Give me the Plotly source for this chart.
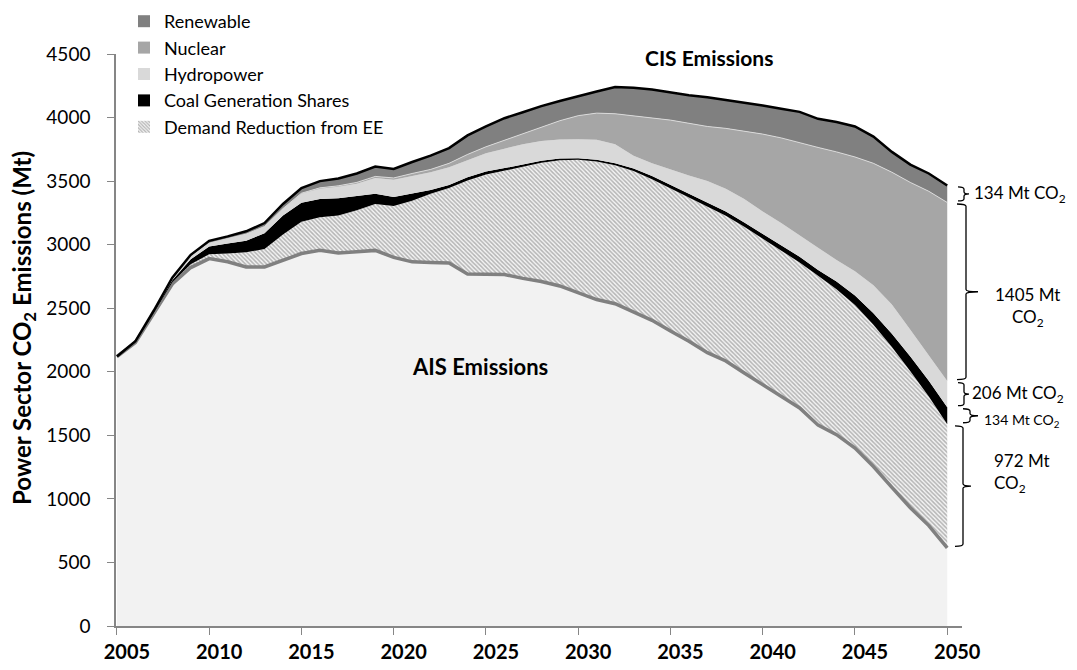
import plotly.graph_objects as go

years = list(range(2005, 2051))

ais = [2120, 2230, 2460, 2690, 2820, 2890, 2865, 2825, 2825, 2880,
       2930, 2955, 2935, 2945, 2955, 2900, 2865, 2860, 2855, 2770,
       2768, 2765, 2735, 2710, 2675, 2620, 2568, 2535, 2470, 2405,
       2320, 2240, 2150, 2085, 1990, 1900, 1810, 1715, 1580, 1505,
       1400, 1255, 1090, 930, 790, 615]
ee = [0, 2, 6, 15, 25, 35, 65, 115, 140, 200,
      250, 260, 295, 325, 365, 405, 480, 540, 590, 735,
      784, 815, 877, 935, 990, 1048, 1087, 1090, 1110, 1110,
      1123, 1135, 1150, 1143, 1150, 1145, 1142, 1145, 1175, 1145,
      1125, 1115, 1105, 1075, 1015, 972]
coal = [0, 3, 8, 15, 40, 60, 80, 90, 125, 150,
        150, 145, 135, 115, 80, 70, 55, 30, 25, 25,
        23, 20, 18, 15, 13, 12, 13, 15, 20, 25,
        27, 30, 30, 32, 35, 40, 43, 45, 45, 60,
        75, 90, 105, 115, 125, 134]
hydro = [0, 2, 4, 10, 20, 25, 35, 50, 50, 50,
         70, 80, 90, 95, 125, 135, 140, 140, 140, 135,
         145, 155, 160, 155, 150, 150, 157, 150, 100, 100,
         120, 140, 170, 180, 185, 175, 175, 165, 175, 170,
         190, 220, 230, 210, 200, 206]
nuclear = [0, 0, 0, 1, 2, 2, 3, 3, 3, 4,
           5, 7, 8, 10, 12, 15, 20, 22, 30, 45,
           50, 65, 80, 110, 147, 185, 210, 240, 315, 355,
           390, 410, 430, 475, 535, 610, 670, 730, 790, 850,
           900, 960, 1040, 1160, 1290, 1405]
renewable = [0, 3, 4, 9, 13, 18, 17, 22, 27, 36,
             40, 53, 57, 70, 78, 70, 90, 108, 120, 150,
             160, 175, 172, 165, 155, 155, 170, 210, 220, 225,
             215, 220, 230, 225, 220, 225, 230, 245, 225, 235,
             240, 210, 160, 140, 140, 134]

xtick_vals = list(range(2005, 2051, 5))
xtick_text = [str(v) for v in xtick_vals]

FONT = "Lato"
HATCH = dict(shape="\\", fgcolor="#737373", bgcolor="#f4f4f4", size=3, solidity=0.5)

fig = go.Figure()

series = [
    ("AIS Emissions", ais, "#f2f2f2", dict(color="#808080", width=3.5), None),
    ("Demand Reduction from EE", ee, "#f4f4f4", dict(width=0), HATCH),
    ("Coal Generation Shares", coal, "#000000", dict(width=0), None),
    ("Hydropower", hydro, "#d9d9d9", dict(width=0), None),
    ("Nuclear", nuclear, "#a6a6a6", dict(color="#e6e6e6", width=0.8), None),
    ("Renewable", renewable, "#808080", dict(color="#000000", width=2.5), None),
]
for name, vals, col, line, pat in series:
    kw = dict(x=years, y=vals, name=name, mode="lines", stackgroup="s",
              fillcolor=col, line=line, showlegend=False, hoverinfo="skip")
    if pat:
        kw["fillpattern"] = pat
    fig.add_trace(go.Scatter(**kw))

# legend proxies (square swatches)
legend_items = [("Renewable", "#808080", None), ("Nuclear", "#a6a6a6", None),
                ("Hydropower", "#d9d9d9", None), ("Coal Generation Shares", "#000000", None),
                ("Demand Reduction from EE", "#f4f4f4", HATCH)]
for name, col, pat in legend_items:
    mk = dict(color=col, line=dict(width=0))
    if pat:
        mk["pattern"] = pat
    fig.add_trace(go.Bar(x=[None], y=[None], name=name, marker=mk, showlegend=True))

# cumulative levels at 2050 for the brackets
lvl = [ais[-1]]
for s in (ee, coal, hydro, nuclear, renewable):
    lvl.append(lvl[-1] + s[-1])

W, H = 1077, 670
OFF = 8  # page body margin offset
L, R, T, B = 108, 123, 46, 52
PW = W - L - R
PH = H - T - B


def px(p):
    """screen pixel x -> paper x"""
    return (p - OFF - L) / PW


def py(p):
    """screen pixel y -> paper y"""
    return 1 - (p - OFF - T) / PH


def brace(xl, xv, xt, ytop, ybot, r):
    ym = (ytop + ybot) / 2
    return (f"M {px(xl)},{ytop} Q {px(xv)},{ytop} {px(xv)},{ytop - r} "
            f"L {px(xv)},{ym + r} Q {px(xv)},{ym} {px(xt)},{ym} "
            f"Q {px(xv)},{ym} {px(xv)},{ym - r} L {px(xv)},{ybot + r} "
            f"Q {px(xv)},{ybot} {px(xl)},{ybot}")

shapes = []
annos = []
# (lower level idx, xl, xv, xt, text, text_x, xanchor, size, yshift)
br_specs = [
    (0, 955, 963, 971, "972 Mt<br>CO<sub>2</sub>", 992, "left", 17, 13),
    (1, 963, 970, 978, "134 Mt CO<sub>2</sub>", 982, "left", 14, -5),
    (2, 958, 964, 969, "206 Mt CO<sub>2</sub>", 970, "left", 17, 0),
    (3, 957, 966, 978, "1405 Mt<br>CO<sub>2</sub>", 1027, "center", 17, -15),
    (4, 958, 964, 969, "134 Mt CO<sub>2</sub>", 972, "left", 17, 0),
]
for i, xl, xv, xt, txt, tx, xa, fs, ys in br_specs:
    lo, hi = lvl[i], lvl[i + 1]
    pad = 12
    ytop, ybot = hi - pad, lo + pad
    r = min(18, (ytop - ybot) / 5)
    shapes.append(dict(type="path", xref="paper", yref="y",
                       path=brace(xl, xv, xt, ytop, ybot, r),
                       line=dict(color="#000000", width=1.3)))
    annos.append(dict(x=px(tx), xref="paper", y=(lo + hi) / 2, yref="y",
                      text=txt, showarrow=False, xanchor=xa, yanchor="middle",
                      align=xa, yshift=ys,
                      font=dict(family=FONT, size=fs, color="#000000")))

annos.append(dict(x=2037.1, y=4475, xref="x", yref="y", text="<b>CIS Emissions</b>",
                  showarrow=False, font=dict(family=FONT, size=21, color="#000000")))
annos.append(dict(x=2024.7, y=2045, xref="x", yref="y", text="<b>AIS Emissions</b>",
                  showarrow=False, font=dict(family=FONT, size=22, color="#000000")))
annos.append(dict(x=px(24), y=py(328), xref="paper", yref="paper", textangle=-90,
                  text="<b>Power Sector CO<sub>2</sub> Emissions (Mt)</b>",
                  showarrow=False, xanchor="center", yanchor="middle",
                  font=dict(family=FONT, size=24, color="#000000")))

fig.update_layout(
    width=W, height=H,
    margin=dict(l=L, r=R, t=T, b=B, autoexpand=False),
    paper_bgcolor="white", plot_bgcolor="white",
    font=dict(family=FONT, color="#000000"),
    shapes=shapes, annotations=annos,
    legend=dict(xref="paper", yref="paper", x=px(124), y=py(3),
                xanchor="left", yanchor="top",
                font=dict(family=FONT, size=18, color="#000000"),
                bgcolor="rgba(0,0,0,0)", traceorder="normal", tracegroupgap=0,
                itemwidth=30),
    xaxis=dict(range=[2004.95, 2050.8], tickmode="array", tickvals=xtick_vals,
               ticktext=xtick_text, ticks="outside", ticklen=7, tickcolor="#868686",
               showline=True, linecolor="#868686", linewidth=1.5, showgrid=False,
               zeroline=False, ticklabelshift=10, automargin=False,
               tickfont=dict(family=FONT, size=20, weight="bold", color="#000000")),
    yaxis=dict(range=[0, 4500], dtick=500, ticks="outside", ticklen=7,
               tickcolor="#868686", showline=True, linecolor="#868686", linewidth=1.5,
               showgrid=False, zeroline=False, automargin=False, ticklabelstandoff=13,
               tickfont=dict(family=FONT, size=19, color="#000000")),
)

fig.write_html("out.html")
